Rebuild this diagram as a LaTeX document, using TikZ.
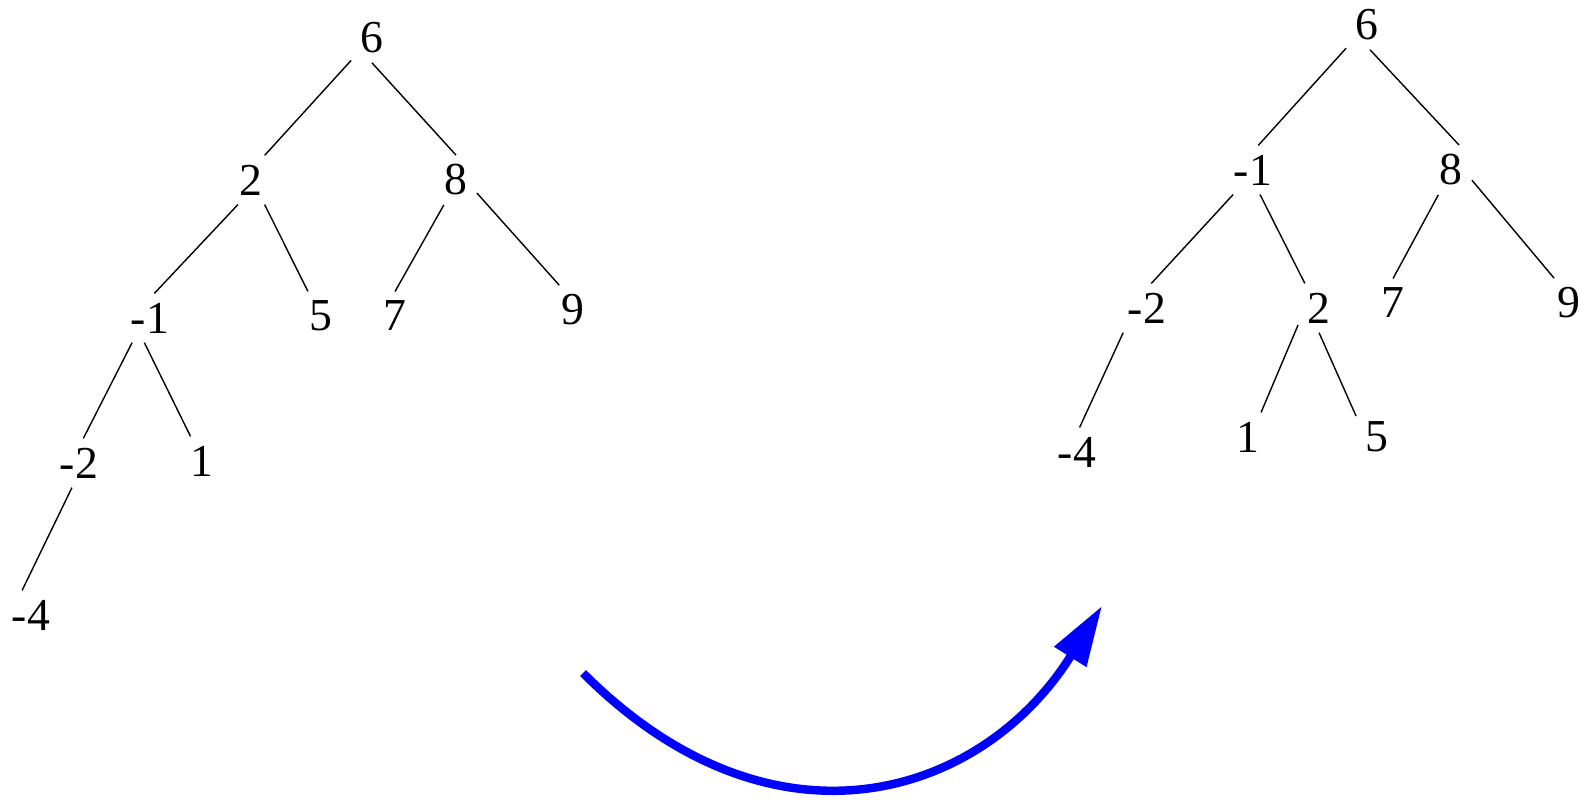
\documentclass[tikz,border=0pt]{standalone}
\usepackage{fontspec}
\setmainfont{Liberation Serif}
\usetikzlibrary{arrows.meta}

\begin{document}
\begin{tikzpicture}[
  x=0.01cm, y=-0.01cm,
  every node/.style={font=\fontsize{13}{15}\selectfont},
  key/.style  = {inner sep=2.5pt},
  edge/.style = {black, line width=0.4pt},
  arr/.style  = {blue, line width=2.4pt, -{Triangle[length=6mm, width=3.6mm]}},
]
  \useasboundingbox (0,0) rectangle (1585,800);
  % tree before the rotation
  \node[key] (a6)  at (372,38)  {6};
  \node[key] (a2)  at (251,180) {2};
  \node[key] (a8)  at (456,180) {8};
  \node[key] (am1) at (150,318) {-1};
  \node[key] (a5)  at (321,316) {5};
  \node[key] (a7)  at (395,316) {7};
  \node[key] (a9)  at (573,310) {9};
  \node[key] (am2) at (79,463)  {-2};
  \node[key] (a1)  at (202,461) {1};
  \node[key] (am4) at (31,615)  {-4};
  \foreach \a/\b in {a6.227/a2.61, a6.270/a8.90, a2.242/am1.80, a2.299/a5.118,
                     a8.244/a7.90, a8.328/a9.119, am1.234/am2.80, am1.257/a1.115,
                     am2.254/am4.110}
     \draw[edge](\a)--(\b);
  % tree after the rotation
  \node[key] (b6)  at (1367,25)  {6};
  \node[key] (bm1) at (1253,170) {-1};
  \node[key] (b8)  at (1451,170) {8};
  \node[key] (bm2) at (1147,308) {-2};
  \node[key] (b2)  at (1319,308) {2};
  \node[key] (b7)  at (1393,303) {7};
  \node[key] (b9)  at (1569,303) {9};
  \node[key] (bm4) at (1077,452) {-4};
  \node[key] (b1)  at (1248,437) {1};
  \node[key] (b5)  at (1377,437) {5};
  \foreach \a/\b in {b6.228/bm1.78, b6.277/b8.72, bm1.231/bm2.80, bm1.286/b2.120,
                     b8.243/b7.90, b8.334/b9.121, bm2.226/bm4.84, b2.219/b1.62,
                     b2.270/b5.135}
     \draw[edge](\a)--(\b);
  % rotation arrow
  \coordinate (from) at (583,673);
  \coordinate (to)   at (1102,606);
  \draw[arr] (from) .. controls (773,863) and (982,798) .. (to);
\end{tikzpicture}
\end{document}
